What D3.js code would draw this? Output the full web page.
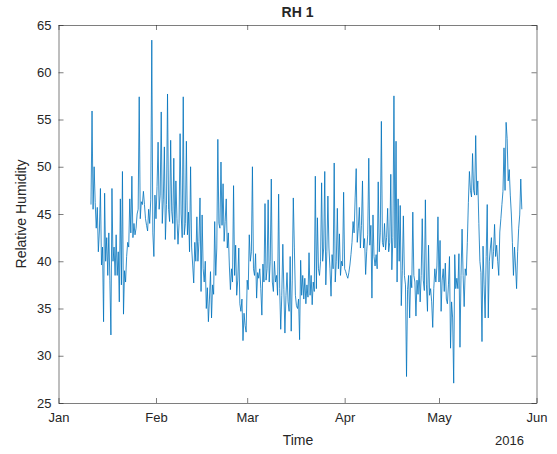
<!DOCTYPE html>
<html>
<head>
<meta charset="utf-8">
<script src="https://cdn.jsdelivr.net/npm/d3@7"></script>
<style>
  body { margin: 0; background: #fff; }
  text { font-family: "Liberation Sans", Arial, sans-serif; fill: #262626; }
</style>
</head>
<body>
<svg id="chart" width="557" height="454"></svg>
<script>
// sensor readings, one every 8 hours starting 11 Jan 2016 08:00
var startTime = new Date(2016, 0, 11, 8)
var stepHours = 8
var rh = [
  46.0, 55.9, 45.5, 50.0, 46.2, 43.5, 45.7, 41.0, 43.2, 47.7,
  39.6, 41.5, 33.6, 47.2, 40.0, 42.5, 38.5, 43.0, 38.0, 32.2,
  47.7, 40.0, 41.5, 38.5, 42.8, 38.5, 41.0, 35.7, 46.6, 37.5,
  49.5, 34.4, 39.0, 37.8, 40.5, 42.0, 41.5, 46.6, 43.0, 49.0,
  42.5, 44.0, 42.8, 43.5, 45.0, 45.5, 57.4, 44.5, 46.3, 46.0,
  47.4, 46.0, 44.5, 43.8, 43.2, 45.5, 44.0, 46.5, 63.4, 43.0,
  40.5, 47.0, 44.5, 47.9, 52.6, 45.5, 47.0, 55.8, 44.0, 46.5,
  52.1, 42.3, 46.0, 57.7, 45.5, 44.2, 52.8, 45.3, 44.0, 50.9,
  42.3, 48.5, 44.5, 41.8, 44.0, 53.5, 45.0, 42.5, 57.4, 42.8,
  44.0, 52.7, 42.8, 45.2, 41.0, 50.0, 41.5, 39.6, 37.7, 42.0,
  40.0, 44.7, 40.0, 42.1, 46.7, 36.8, 44.9, 39.2, 37.8, 40.0,
  35.0, 37.2, 33.6, 36.0, 38.9, 34.0, 37.5, 36.5, 44.2, 38.5,
  41.4, 52.9, 44.0, 43.5, 50.5, 43.8, 48.2, 42.1, 44.2, 46.6,
  41.4, 43.0, 39.5, 37.0, 39.2, 37.8, 48.0, 38.5, 41.7, 36.4,
  38.0, 41.4, 35.5, 34.7, 36.0, 31.6, 34.5, 33.2, 32.5, 38.0,
  37.0, 42.8, 40.0, 41.0, 50.0, 39.2, 38.5, 40.8, 36.1, 38.8,
  38.2, 39.2, 37.1, 34.3, 39.7, 37.8, 46.1, 38.0, 39.2, 46.5,
  37.8, 40.0, 48.7, 37.8, 36.8, 40.0, 37.8, 38.5, 36.4, 47.1,
  37.1, 32.8, 36.4, 41.8, 37.0, 32.4, 36.4, 38.8, 35.7, 34.7,
  40.5, 32.6, 38.0, 46.7, 41.5, 36.4, 35.3, 35.0, 36.0, 31.7,
  40.1, 36.4, 38.5, 36.0, 38.2, 35.5, 37.5, 36.2, 40.9, 36.4,
  38.5, 35.4, 37.8, 36.8, 49.0, 37.1, 44.6, 39.2, 38.5, 40.0,
  48.3, 40.0, 41.4, 49.5, 37.5, 41.0, 46.9, 41.4, 39.2, 36.3,
  40.7, 39.2, 50.4, 37.8, 40.0, 45.6, 39.2, 42.9, 38.5, 40.0,
  39.5, 47.3, 39.2, 38.9, 38.5, 38.2, 38.8, 39.6, 40.7, 42.0,
  44.2, 43.0, 46.7, 49.8, 42.0, 43.5, 45.7, 41.4, 43.8, 48.5,
  41.4, 42.4, 38.6, 41.0, 42.8, 50.9, 41.7, 43.8, 36.1, 44.9,
  40.5, 39.5, 40.7, 39.2, 48.4, 41.0, 43.0, 54.8, 42.0, 41.5,
  44.0, 41.2, 42.5, 45.6, 41.0, 42.0, 49.2, 39.1, 42.5, 57.5,
  41.4, 52.7, 37.8, 46.6, 40.0, 45.9, 35.3, 39.0, 44.8, 38.5,
  37.5, 27.8, 37.0, 38.5, 34.0, 38.5, 37.2, 45.2, 38.5, 37.8,
  34.2, 38.0, 36.5, 39.2, 35.7, 38.5, 44.5, 38.0, 36.9, 46.5,
  37.5, 34.7, 41.7, 36.4, 37.1, 35.7, 33.0, 37.1, 39.2, 37.8,
  39.5, 44.7, 37.8, 42.2, 34.7, 38.0, 39.2, 36.8, 39.8, 36.0,
  35.5, 37.5, 40.5, 30.8, 35.7, 34.0, 27.1, 40.7, 37.1, 38.2,
  37.1, 40.8, 30.9, 38.5, 43.4, 38.5, 35.2, 39.2, 38.5, 42.0,
  46.2, 49.5, 47.5, 46.8, 51.4, 47.5, 47.0, 53.3, 47.0, 48.5,
  44.0, 40.0, 38.8, 31.5, 41.6, 37.5, 34.0, 40.5, 46.0, 34.0,
  40.0, 41.4, 42.5, 39.2, 41.0, 43.9, 40.5, 41.7, 40.0, 38.5,
  43.1, 44.5, 46.0, 47.4, 52.0, 47.5, 54.7, 53.0, 48.5, 49.7,
  47.0, 45.0, 42.0, 38.5, 41.5, 39.5, 37.1, 41.0, 43.5, 44.9,
  48.7, 45.5
]
var yTicks = [25, 30, 35, 40, 45, 50, 55, 60, 65]
var monthTicks = [new Date(2016, 0, 1), new Date(2016, 1, 1), new Date(2016, 2, 1),
                  new Date(2016, 3, 1), new Date(2016, 4, 1), new Date(2016, 5, 1)]
var monthLabels = ["Jan", "Feb", "Mar", "Apr", "May", "Jun"]

var data = rh.map(function (v, i) {
  return { t: d3.timeHour.offset(startTime, i * stepHours), v: v }
})

var svg = d3.select("#chart")
var plotL = 58.5, plotR = 536.5, plotT = 25, plotB = 403
var axisColor = "#262626"

var x = d3.scaleTime()
  .domain([monthTicks[0], monthTicks[monthTicks.length - 1]])
  .range([plotL, plotR])
var y = d3.scaleLinear().domain([25, 65]).range([plotB, plotT])

// series
var line = d3.line()
  .x(function (d) { return x(d.t) })
  .y(function (d) { return y(d.v) })

svg.append("path")
  .datum(data)
  .attr("d", line)
  .attr("fill", "none")
  .attr("stroke", "#0072BD")
  .attr("stroke-width", 0.8)

// axes, MATLAB-style box with inward ticks
var xAxisB = d3.axisBottom(x).tickValues(monthTicks)
  .tickFormat(function (d, i) { return monthLabels[i] })
  .tickSizeInner(-5).tickSizeOuter(0).tickPadding(10)
var xAxisT = d3.axisTop(x).tickValues(monthTicks).tickFormat("")
  .tickSizeInner(-5).tickSizeOuter(0)
var yAxisL = d3.axisLeft(y).tickValues(yTicks)
  .tickSizeInner(-5).tickSizeOuter(0).tickPadding(7)
var yAxisR = d3.axisRight(y).tickValues(yTicks).tickFormat("")
  .tickSizeInner(-5).tickSizeOuter(0)

function styleAxis(g) {
  g.select(".domain").attr("stroke", axisColor).attr("stroke-width", 0.6)
  g.selectAll(".tick line").attr("stroke", axisColor).attr("stroke-width", 0.6)
  g.selectAll(".tick text")
    .attr("fill", axisColor)
    .style("font-family", '"Liberation Sans", Arial, sans-serif')
    .style("font-size", "13px")
}

svg.append("g").attr("transform", "translate(0," + plotB + ")").call(xAxisB).call(styleAxis)
svg.append("g").attr("transform", "translate(0," + plotT + ")").call(xAxisT).call(styleAxis)
svg.append("g").attr("transform", "translate(" + plotL + ",0)").call(yAxisL).call(styleAxis)
svg.append("g").attr("transform", "translate(" + plotR + ",0)").call(yAxisR).call(styleAxis)

// labels
svg.append("text")
  .attr("x", (plotL + plotR) / 2).attr("y", 17)
  .attr("text-anchor", "middle")
  .style("font-size", "14px").style("font-weight", "bold")
  .text("RH 1")

svg.append("text")
  .attr("x", (plotL + plotR) / 2 + 0.5).attr("y", 445)
  .attr("text-anchor", "middle")
  .style("font-size", "14px")
  .text("Time")

svg.append("text")
  .attr("x", 524).attr("y", 445)
  .attr("text-anchor", "end")
  .style("font-size", "13px")
  .text("2016")

svg.append("text")
  .attr("transform", "translate(26," + (plotT + plotB) / 2 + ") rotate(-90)")
  .attr("text-anchor", "middle")
  .style("font-size", "14px")
  .text("Relative Humidity")
</script>
</body>
</html>
